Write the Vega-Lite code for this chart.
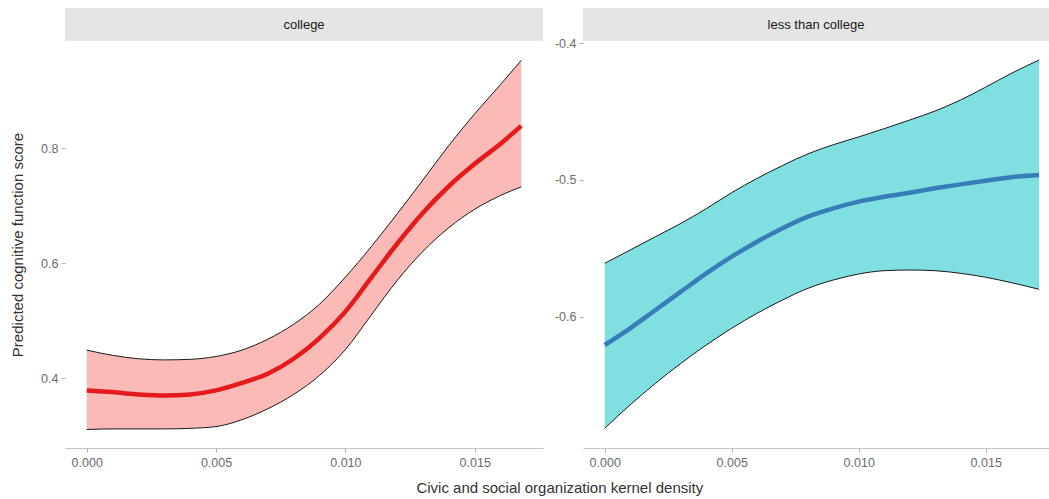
{
  "$schema": "https://vega.github.io/schema/vega-lite/v6.json",
  "background": "white",
  "padding": {"left": 10, "top": 8, "right": 0, "bottom": 0},
  "config": {
    "font": "Liberation Sans",
    "view": {"stroke": null},
    "axis": {
      "grid": false,
      "domain": false,
      "labelColor": "#6b6b6b",
      "labelFontSize": 12.5,
      "labelFont": "Liberation Sans",
      "tickColor": "#b0b0b0",
      "tickSize": 4,
      "labelPadding": 3,
      "titleColor": "#333333",
      "titleFontSize": 15,
      "titleFontWeight": "normal",
      "titleFont": "Liberation Sans"
    },
    "axisX": {"domain": true, "domainColor": "#c4c4c4", "labelPadding": 4}
  },
  "datasets": {
    "fits": [
      {"group": "college", "x": 0.0, "lo": 0.311, "fit": 0.379, "hi": 0.449},
      {"group": "college", "x": 0.001, "lo": 0.312, "fit": 0.376, "hi": 0.440},
      {"group": "college", "x": 0.002, "lo": 0.312, "fit": 0.372, "hi": 0.434},
      {"group": "college", "x": 0.003, "lo": 0.312, "fit": 0.370, "hi": 0.432},
      {"group": "college", "x": 0.004, "lo": 0.313, "fit": 0.372, "hi": 0.433},
      {"group": "college", "x": 0.005, "lo": 0.316, "fit": 0.379, "hi": 0.438},
      {"group": "college", "x": 0.006, "lo": 0.328, "fit": 0.392, "hi": 0.449},
      {"group": "college", "x": 0.007, "lo": 0.347, "fit": 0.408, "hi": 0.468},
      {"group": "college", "x": 0.008, "lo": 0.372, "fit": 0.434, "hi": 0.494},
      {"group": "college", "x": 0.009, "lo": 0.405, "fit": 0.470, "hi": 0.529},
      {"group": "college", "x": 0.010, "lo": 0.450, "fit": 0.516, "hi": 0.576},
      {"group": "college", "x": 0.011, "lo": 0.510, "fit": 0.575, "hi": 0.629},
      {"group": "college", "x": 0.012, "lo": 0.570, "fit": 0.634, "hi": 0.686},
      {"group": "college", "x": 0.013, "lo": 0.621, "fit": 0.688, "hi": 0.745},
      {"group": "college", "x": 0.014, "lo": 0.662, "fit": 0.734, "hi": 0.805},
      {"group": "college", "x": 0.015, "lo": 0.694, "fit": 0.773, "hi": 0.860},
      {"group": "college", "x": 0.016, "lo": 0.718, "fit": 0.808, "hi": 0.911},
      {"group": "college", "x": 0.0168, "lo": 0.733, "fit": 0.839, "hi": 0.953},
      {"group": "less than college", "x": 0.0, "lo": -0.6816, "fit": -0.6207, "hi": -0.561},
      {"group": "less than college", "x": 0.001, "lo": -0.6645, "fit": -0.6085, "hi": -0.5513},
      {"group": "less than college", "x": 0.002, "lo": -0.6487, "fit": -0.5951, "hi": -0.5415},
      {"group": "less than college", "x": 0.003, "lo": -0.6341, "fit": -0.5817, "hi": -0.5318},
      {"group": "less than college", "x": 0.004, "lo": -0.6207, "fit": -0.5683, "hi": -0.5210},
      {"group": "less than college", "x": 0.005, "lo": -0.6085, "fit": -0.5561, "hi": -0.5093},
      {"group": "less than college", "x": 0.006, "lo": -0.5975, "fit": -0.5452, "hi": -0.4989},
      {"group": "less than college", "x": 0.007, "lo": -0.5878, "fit": -0.5354, "hi": -0.4895},
      {"group": "less than college", "x": 0.008, "lo": -0.5793, "fit": -0.5269, "hi": -0.4810},
      {"group": "less than college", "x": 0.009, "lo": -0.5732, "fit": -0.5208, "hi": -0.4743},
      {"group": "less than college", "x": 0.010, "lo": -0.5688, "fit": -0.5159, "hi": -0.4686},
      {"group": "less than college", "x": 0.011, "lo": -0.5664, "fit": -0.5123, "hi": -0.4626},
      {"group": "less than college", "x": 0.012, "lo": -0.5659, "fit": -0.5094, "hi": -0.4563},
      {"group": "less than college", "x": 0.013, "lo": -0.5664, "fit": -0.5062, "hi": -0.4497},
      {"group": "less than college", "x": 0.014, "lo": -0.5683, "fit": -0.5033, "hi": -0.4417},
      {"group": "less than college", "x": 0.015, "lo": -0.5712, "fit": -0.5006, "hi": -0.4322},
      {"group": "less than college", "x": 0.016, "lo": -0.5751, "fit": -0.4981, "hi": -0.4222},
      {"group": "less than college", "x": 0.0171, "lo": -0.5800, "fit": -0.4965, "hi": -0.4124}
    ]
  },
  "title": {
    "text": "Civic and social organization kernel density",
    "orient": "bottom",
    "anchor": "middle",
    "fontSize": 15,
    "fontWeight": "normal",
    "color": "#333333",
    "font": "Liberation Sans",
    "offset": 12,
    "dx": 30
  },
  "columns": 2,
  "spacing": {"row": 0, "column": 40},
  "bounds": "flush",
  "align": "each",
  "concat": [
    {
      "width": 478,
      "height": 33,
      "view": {"fill": "#e5e5e5", "stroke": null},
      "data": {"values": [{"label": "college"}]},
      "mark": {"type": "text", "fontSize": 13, "color": "#1a1a1a", "font": "Liberation Sans"},
      "encoding": {"text": {"field": "label", "type": "nominal"}}
    },
    {
      "width": 466,
      "height": 33,
      "view": {"fill": "#e5e5e5", "stroke": null},
      "data": {"values": [{"label": "less than college"}]},
      "mark": {"type": "text", "fontSize": 13, "color": "#1a1a1a", "font": "Liberation Sans"},
      "encoding": {"text": {"field": "label", "type": "nominal"}}
    },
    {
      "width": 478,
      "height": 407,
      "data": {"name": "fits"},
      "transform": [{"filter": "datum.group === 'college'"}],
      "encoding": {
        "x": {
          "field": "x",
          "type": "quantitative",
          "scale": {"domain": [-0.00084, 0.01764], "nice": false, "zero": false},
          "axis": {"values": [0, 0.005, 0.01, 0.015], "format": ".3f", "title": null}
        }
      },
      "layer": [
        {
          "mark": {"type": "area", "color": "#fbbab6", "opacity": 1, "interpolate": "monotone"},
          "encoding": {
            "y": {
              "field": "lo",
              "type": "quantitative",
              "scale": {"domain": [0.2788, 0.9866], "nice": false, "zero": false},
              "axis": {"values": [0.4, 0.6, 0.8], "labelExpr": "toString(datum.value)", "title": "Predicted cognitive function score", "titlePadding": 15}
            },
            "y2": {"field": "hi"}
          }
        },
        {
          "mark": {"type": "line", "color": "#1a1a1a", "strokeWidth": 1, "interpolate": "monotone"},
          "encoding": {"y": {"field": "lo", "type": "quantitative"}}
        },
        {
          "mark": {"type": "line", "color": "#1a1a1a", "strokeWidth": 1, "interpolate": "monotone"},
          "encoding": {"y": {"field": "hi", "type": "quantitative"}}
        },
        {
          "mark": {"type": "line", "color": "#e41a1c", "strokeWidth": 4.5, "interpolate": "monotone"},
          "encoding": {"y": {"field": "fit", "type": "quantitative"}}
        }
      ]
    },
    {
      "width": 466,
      "height": 407,
      "data": {"name": "fits"},
      "transform": [{"filter": "datum.group === 'less than college'"}],
      "encoding": {
        "x": {
          "field": "x",
          "type": "quantitative",
          "scale": {"domain": [-0.000855, 0.01749], "nice": false, "zero": false},
          "axis": {"values": [0, 0.005, 0.01, 0.015], "format": ".3f", "title": null}
        }
      },
      "layer": [
        {
          "mark": {"type": "area", "color": "#7fdfe1", "opacity": 1, "interpolate": "monotone"},
          "encoding": {
            "y": {
              "field": "lo",
              "type": "quantitative",
              "scale": {"domain": [-0.696, -0.3985], "nice": false, "zero": false},
              "axis": {"values": [-0.6, -0.5, -0.4], "labelExpr": "toString(datum.value)", "title": null}
            },
            "y2": {"field": "hi"}
          }
        },
        {
          "mark": {"type": "line", "color": "#1a1a1a", "strokeWidth": 1, "interpolate": "monotone"},
          "encoding": {"y": {"field": "lo", "type": "quantitative"}}
        },
        {
          "mark": {"type": "line", "color": "#1a1a1a", "strokeWidth": 1, "interpolate": "monotone"},
          "encoding": {"y": {"field": "hi", "type": "quantitative"}}
        },
        {
          "mark": {"type": "line", "color": "#377eb8", "strokeWidth": 4.5, "interpolate": "monotone"},
          "encoding": {"y": {"field": "fit", "type": "quantitative"}}
        }
      ]
    }
  ]
}
